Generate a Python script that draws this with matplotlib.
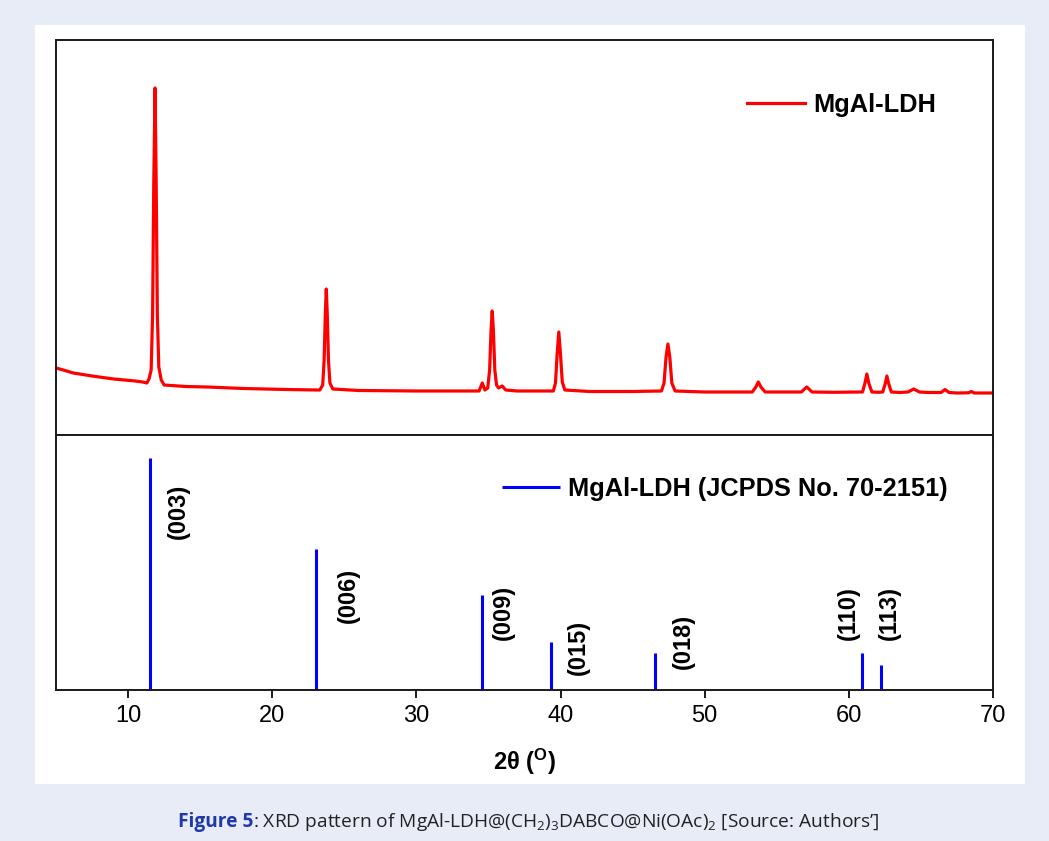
"""
XRD pattern of MgAl-LDH@(CH2)3DABCO@Ni(OAc)2 with JCPDS reference sticks.
"""

import matplotlib
matplotlib.use("Agg")
import matplotlib.pyplot as plt
from matplotlib.patches import Rectangle

two_theta = [
    5.0, 5.5, 6.2, 7.5, 9.0, 10.5, 11.0, 11.3, 11.45, 11.6, 11.7, 11.78, 11.87,
    11.95, 12.03, 12.13, 12.3, 12.5, 14.0, 15.5, 18.0, 21.0, 23.1, 23.3, 23.5,
    23.6, 23.68, 23.75, 23.82, 23.9, 24.0, 24.2, 26.0, 30.0, 34.0, 34.35, 34.57,
    34.75, 34.95, 35.08, 35.18, 35.26, 35.34, 35.44, 35.56, 35.7, 35.95, 36.2,
    37.0, 39.0, 39.5, 39.65, 39.76, 39.88, 40.0, 40.12, 40.3, 42.0, 45.0, 47.0,
    47.18, 47.32, 47.45, 47.58, 47.72, 47.95, 50.0, 53.0, 53.3, 53.55, 53.72,
    53.9, 54.2, 56.0, 56.7, 57.08, 57.45, 59.0, 60.7, 60.95, 61.12, 61.25, 61.38,
    61.6, 62.0, 62.35, 62.52, 62.64, 62.77, 62.95, 63.5, 64.1, 64.5, 64.9, 65.5,
    66.4, 66.67, 66.95, 67.5, 68.3, 68.5, 68.7, 69.5, 70.0,
]
intensity = [
    67, 65, 62, 59, 56, 54, 53, 52, 56, 65, 120, 250, 347,
    250, 120, 68, 55, 50, 48.5, 48, 46.5, 45.5, 45, 45, 50,
    75, 120, 146, 120, 75, 52, 46, 44.5, 44, 44, 44, 52,
    45, 47, 65, 105, 124, 105, 65, 50, 47, 49, 45,
    44, 44, 44, 52, 80, 103, 80, 53, 45, 43.5, 43.5, 44,
    52, 78, 91, 78, 52, 44, 43, 43, 43, 48, 53,
    48, 43, 43, 43, 48, 43, 42.7, 43, 43, 52, 61, 52,
    43, 42.7, 43, 51, 59, 51, 43, 42.5, 43, 46, 43, 42.5,
    42.5, 45.5, 42.5, 42, 42.2, 43.5, 42, 42, 42,
]

# JCPDS No. 70-2151 reference lines
ref_pos = [11.53, 23.06, 34.55, 39.31, 46.55, 60.90, 62.22]
ref_int = [100, 60.8, 41, 20.7, 16, 16, 10.8]
ref_hkl = ["(003)", "(006)", "(009)", "(015)", "(018)", "(110)", "(113)"]

# where the hkl labels sit (x in 2theta, y in reference intensity)
label_xy = [(13.47, 77), (25.3, 41), (36.04, 33.6), (41.25, 18.5),
            (48.5, 21), (60.0, 33), (62.8, 33)]

plt.rcParams["font.family"] = ["Liberation Sans", "DejaVu Sans"]
plt.rcParams["mathtext.fontset"] = "custom"
plt.rcParams["mathtext.rm"] = "Liberation Sans"
plt.rcParams["mathtext.bf"] = "Liberation Sans:bold"

fig = plt.figure(figsize=(10.49, 8.41), dpi=100)
fig.patch.set_facecolor("#e7ecf7")
# white card behind the chart
fig.add_artist(Rectangle((0.0334, 0.0678), 0.9437, 0.9025,
                         transform=fig.transFigure, facecolor="white",
                         edgecolor="none", zorder=0))

ax1 = fig.add_axes([0.0534, 0.48276, 0.8932, 0.46968])
ax2 = fig.add_axes([0.0534, 0.17955, 0.8932, 0.30321], sharex=ax1)

for ax in (ax1, ax2):
    for sp in ax.spines.values():
        sp.set_linewidth(1.4)
        sp.set_color("#1a1a1a")

# Top panel: measured pattern
ax1.plot(two_theta, intensity, color="#ff0000", lw=2.3, label="MgAl-LDH")
ax1.set_xlim(5, 70)
ax1.set_ylim(0, 395)
ax1.set_yticks([])
ax1.set_xticks([10, 20, 30, 40, 50, 60, 70])
ax1.tick_params(axis="x", direction="out", length=6, width=1.4,
                labelbottom=False, color="#1a1a1a")
ax1.legend(loc="center left", bbox_to_anchor=(0.7375, 0.835), frameon=False,
           prop={"weight": "bold", "size": 18.3}, handlelength=2.3,
           handletextpad=0.3, borderpad=0, borderaxespad=0)

# Bottom panel: reference sticks
ax2.vlines(ref_pos, 0, ref_int, color="#0000ff", lw=2.2,
           label="MgAl-LDH (JCPDS No. 70-2151)")
for (lx, ly), hkl in zip(label_xy, ref_hkl):
    ax2.text(lx, ly, hkl, rotation=90, ha="center", va="center",
             fontsize=17, fontweight="bold")
ax2.set_ylim(0, 110)
ax2.set_yticks([])
ax2.tick_params(axis="x", direction="out", length=6, width=1.4,
                labelsize=17, pad=5, color="#1a1a1a")
ax2.set_xlabel(r"2θ ($\mathbf{^{O}}$)", fontsize=17, fontweight="bold",
               labelpad=14)
ax2.legend(loc="center left", bbox_to_anchor=(0.476, 0.788), frameon=False,
           prop={"weight": "bold", "size": 18.3}, handlelength=2.3,
           handletextpad=0.3, borderpad=0, borderaxespad=0)

# Caption below the figure
cap1 = fig.text(0.1697, 0.0226, "Figure 5", fontsize=13.8, fontweight="bold",
                color="#2139a8", family="Open Sans", va="center")
plt.annotate(r": XRD pattern of MgAl-LDH@(CH$\mathregular{_2}$)$\mathregular{_3}$DABCO@Ni(OAc)$\mathregular{_2}$ [Source: Authors’]",
             xy=(1, 0.5), xycoords=cap1, va="center", ha="left",
             fontsize=13.8, color="#222222", family="Open Sans",
             annotation_clip=False)

fig.savefig("out.png", dpi=100, facecolor=fig.get_facecolor())
